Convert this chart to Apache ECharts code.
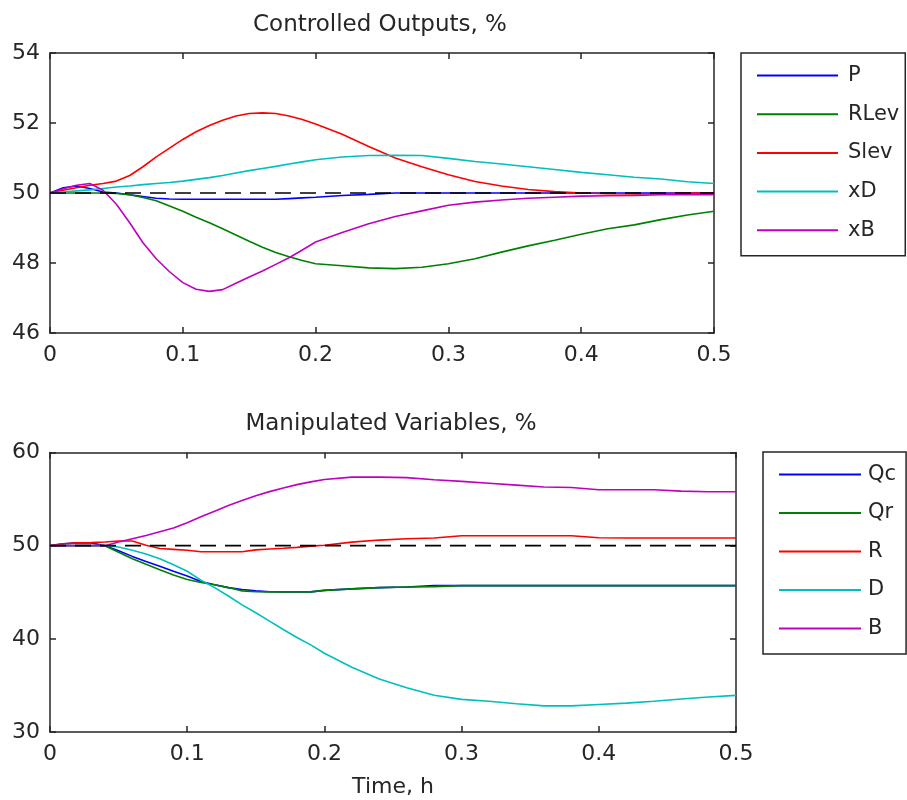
<!DOCTYPE html>
<html>
<head>
<meta charset="utf-8">
<script src="https://cdn.jsdelivr.net/npm/echarts/dist/echarts.min.js"></script>
<style>
html,body{margin:0;padding:0;background:#fff}
#c{width:907px;height:800px}
</style>
</head>
<body>
<div id="c"></div>
<script>
// ---------- DATA ----------
const timeH = [0,0.01,0.02,0.03,0.04,0.05,0.06,0.07,0.08,0.09,0.10,0.11,0.12,0.13,0.14,0.15,0.16,0.17,0.18,0.19,0.20,
               0.22,0.24,0.26,0.28,0.30,0.32,0.34,0.36,0.38,0.40,0.42,0.44,0.46,0.48,0.50];

// Controlled outputs, %
const pVals    = [50,50.15,50.2,50.13,50.03,50.0,49.95,49.9,49.85,49.83,49.82,49.82,49.82,49.82,49.82,49.82,49.82,49.82,49.84,49.86,49.88,
                  49.93,49.96,50,50,50,50,50,50,50,50,50,50,50,50,50];
const rlevVals = [50,50,50,50,50,49.99,49.95,49.87,49.78,49.63,49.48,49.31,49.15,48.98,48.8,48.62,48.45,48.3,48.18,48.07,47.98,
                  47.92,47.86,47.84,47.88,47.98,48.12,48.31,48.49,48.65,48.82,48.98,49.09,49.24,49.37,49.48];
const slevVals = [50,50.08,50.15,50.22,50.27,50.34,50.5,50.75,51.03,51.28,51.53,51.75,51.93,52.08,52.2,52.27,52.29,52.27,52.2,52.1,51.97,
                  51.68,51.33,51.0,50.75,50.52,50.33,50.2,50.1,50.04,50.0,49.98,49.97,49.98,50.0,50.0];
const xdVals   = [50,50.03,50.06,50.09,50.13,50.17,50.2,50.24,50.27,50.3,50.34,50.39,50.44,50.5,50.57,50.64,50.7,50.76,50.83,50.89,50.95,
                  51.03,51.07,51.08,51.07,50.99,50.9,50.83,50.75,50.67,50.59,50.52,50.45,50.4,50.32,50.27];
const xbVals   = [50,50.12,50.22,50.27,50.08,49.68,49.15,48.58,48.12,47.75,47.44,47.25,47.19,47.24,47.42,47.6,47.77,47.96,48.15,48.37,48.6,
                  48.87,49.12,49.33,49.49,49.65,49.74,49.8,49.85,49.88,49.91,49.92,49.93,49.95,49.95,49.95];

// Manipulated variables, %
const qcVals = [50,50.2,50.3,50.3,50.0,49.45,48.85,48.3,47.8,47.25,46.75,46.15,45.8,45.5,45.3,45.15,45.05,45.04,45.04,45.04,45.2,
                45.36,45.5,45.57,45.71,45.71,45.71,45.71,45.71,45.71,45.71,45.71,45.71,45.71,45.71,45.71];
const qrVals = [50,50,50,50,50,49.3,48.6,48.0,47.42,46.85,46.36,46.05,45.8,45.5,45.15,45.05,45.04,45.04,45.04,45.04,45.2,
                45.36,45.5,45.57,45.6,45.71,45.71,45.71,45.71,45.71,45.71,45.71,45.71,45.71,45.71,45.71];
const rVals  = [50,50.2,50.3,50.33,50.4,50.5,50.5,50.05,49.7,49.6,49.5,49.35,49.35,49.35,49.35,49.55,49.65,49.72,49.82,49.95,50.05,
                50.38,50.6,50.75,50.82,51.07,51.07,51.07,51.07,51.07,50.85,50.82,50.82,50.82,50.82,50.82];
const dVals  = [50,50,50,50,50,49.85,49.5,49.1,48.6,47.95,47.25,46.3,45.5,44.6,43.65,42.8,41.9,41.0,40.15,39.35,38.45,
                36.95,35.7,34.75,33.95,33.5,33.3,33.04,32.8,32.8,32.95,33.1,33.3,33.55,33.75,33.93];
const bVals  = [50,50,50,50,50,50.4,50.75,51.1,51.5,51.9,52.45,53.1,53.7,54.3,54.85,55.35,55.8,56.2,56.55,56.85,57.1,
                57.36,57.36,57.3,57.07,56.9,56.7,56.5,56.3,56.25,56.0,56.0,56.0,55.85,55.79,55.79];

// Reference (setpoint) line
const refTime = [0, 0.5];
const refVals = [50, 50];

const topNames = ['P','RLev','Slev','xD','xB'];
const botNames = ['Qc','Qr','R','D','B'];
const titleTop = 'Controlled Outputs, %';
const titleBot = 'Manipulated Variables, %';
const xLabel = 'Time, h';

// ---------- CHART ----------
const FONT = 'DejaVu Sans';
const INK = '#262626';
const COLORS = ['#0000ff','#008000','#ff0000','#00bfbf','#bf00bf'];
const pairs = (t, v) => t.map((x, i) => [x, v[i]]);

function xAx(gridIndex, position, showLabel, extra) {
  return Object.assign({
    type: 'value', gridIndex, position, min: 0, max: 0.5, interval: 0.1,
    axisLine: {show: true, onZero: false, lineStyle: {color: INK, width: 1.5}},
    axisTick: {show: true, inside: true, length: 6, lineStyle: {color: INK, width: 1.5}},
    axisLabel: {show: showLabel, margin: 11, fontFamily: FONT, fontSize: 22, color: INK,
                formatter: v => (v === 0 ? '0' : v.toFixed(1))},
    splitLine: {show: false}
  }, extra || {});
}
function yAx(gridIndex, position, showLabel, min, max, interval) {
  return {
    type: 'value', gridIndex, position, min, max, interval,
    axisLine: {show: true, onZero: false, lineStyle: {color: INK, width: 1.5}},
    axisTick: {show: true, inside: true, length: 6, lineStyle: {color: INK, width: 1.5}},
    axisLabel: {show: showLabel, margin: 10, fontFamily: FONT, fontSize: 22, color: INK},
    splitLine: {show: false}
  };
}
function lineSeries(name, xi, yi, t, v, color) {
  return {
    type: 'line', name, xAxisIndex: xi, yAxisIndex: yi, data: pairs(t, v),
    symbol: 'none', showSymbol: false, animation: false, silent: true,
    lineStyle: {color, width: 1.6}, itemStyle: {color}
  };
}
function refSeries(xi, yi) {
  return {
    type: 'line', name: 'ref' + xi, xAxisIndex: xi, yAxisIndex: yi, data: pairs(refTime, refVals),
    symbol: 'none', showSymbol: false, animation: false, silent: true, z: 5,
    lineStyle: {color: '#000', width: 1.6, type: [16, 9]}, itemStyle: {color: '#000'}
  };
}
function legendCfg(names, left, top, itemWidth, gap, pad, textPadLeft) {
  return {
    data: names.map(n => ({name: n, icon: 'rect'})),
    orient: 'vertical', left, top, padding: pad,
    itemWidth, itemHeight: 2, itemGap: gap, selectedMode: false,
    borderColor: INK, borderWidth: 1.5, borderRadius: 0, backgroundColor: '#fff',
    textStyle: {fontFamily: FONT, fontSize: 21, color: INK, lineHeight: 20, padding: [0, 0, 0, textPadLeft]}
  };
}

const topData = [pVals, rlevVals, slevVals, xdVals, xbVals];
const botData = [qcVals, qrVals, rVals, dVals, bVals];

const series = [];
topNames.forEach((n, i) => series.push(lineSeries(n, 0, 0, timeH, topData[i], COLORS[i])));
series.push(refSeries(0, 0));
botNames.forEach((n, i) => series.push(lineSeries(n, 2, 2, timeH, botData[i], COLORS[i])));
series.push(refSeries(2, 2));

const option = {
  backgroundColor: '#fff',
  animation: false,
  grid: [
    {left: 50, top: 53, width: 664, height: 280},
    {left: 50, top: 452.5, width: 686, height: 279.5}
  ],
  xAxis: [
    xAx(0, 'bottom', true),
    xAx(0, 'top', false),
    xAx(1, 'bottom', true, {name: xLabel, nameLocation: 'middle', nameGap: 44,
        nameTextStyle: {fontFamily: FONT, fontSize: 22, color: INK}}),
    xAx(1, 'top', false)
  ],
  yAxis: [
    yAx(0, 'left', true, 46, 54, 2),
    yAx(0, 'right', false, 46, 54, 2),
    yAx(1, 'left', true, 30, 60, 10),
    yAx(1, 'right', false, 30, 60, 10)
  ],
  legend: [
    legendCfg(topNames, 741, 53, 81, 17.7, [12, 6, 15, 16], 5),
    legendCfg(botNames, 763, 452, 82, 17.5, [12, 10, 15, 16], 2)
  ],
  graphic: [
    {type: 'text', x: 380, y: 25, silent: true,
     style: {text: titleTop, fontFamily: FONT, fontSize: 23, fill: INK, align: 'center', verticalAlign: 'middle'}},
    {type: 'text', x: 391, y: 424, silent: true,
     style: {text: titleBot, fontFamily: FONT, fontSize: 23, fill: INK, align: 'center', verticalAlign: 'middle'}}
  ],
  series
};

const chart = echarts.init(document.getElementById('c'), null, {renderer: 'canvas'});
chart.setOption(option);
</script>
</body>
</html>
